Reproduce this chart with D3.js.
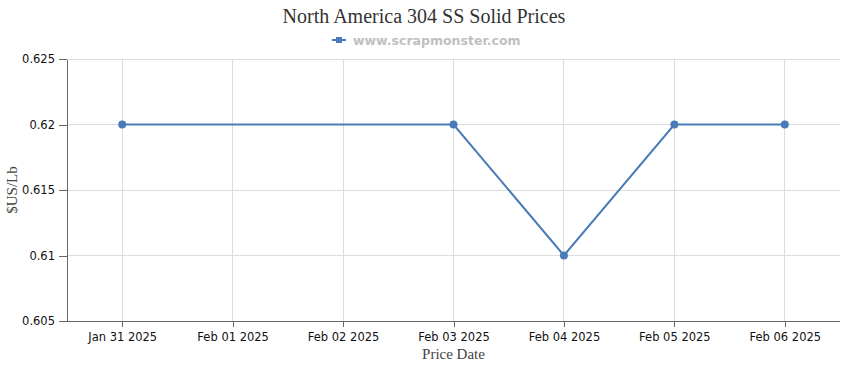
<!DOCTYPE html>
<html><head><meta charset="utf-8">
<script src="https://cdn.jsdelivr.net/npm/d3@7"></script>
<style>body{margin:0;background:#fff}</style>
</head><body>
<svg id="c" width="850" height="370"></svg>
<script>
const categories = ["Jan 31 2025","Feb 01 2025","Feb 02 2025","Feb 03 2025","Feb 04 2025","Feb 05 2025","Feb 06 2025"];
const pointDates = ["Jan 31 2025","Feb 03 2025","Feb 04 2025","Feb 05 2025","Feb 06 2025"];
const pointValues = [0.62,0.62,0.61,0.62,0.62];
const yTicks = [0.605,0.61,0.615,0.62,0.625];
const yTickLabels = ["0.605","0.61","0.615","0.62","0.625"];
const title = "North America 304 SS Solid Prices";
const legendLabel = "www.scrapmonster.com";
const xTitle = "Price Date";
const yTitle = "$US/Lb";

const svg = d3.select("#c");
const L=67, R=840, T=59, B=321;
const color="#4a7ab8";
const x = d3.scalePoint().domain(categories).range([L,R]).padding(0.5);
const y = d3.scaleLinear().domain([0.605,0.625]).range([B,T]);

// grid
svg.append("g").selectAll("line").data(yTicks).join("line")
  .attr("x1",L).attr("x2",R).attr("y1",d=>y(d)).attr("y2",d=>y(d))
  .attr("stroke","#dcdcdc").attr("stroke-width",1).attr("shape-rendering","crispEdges");
svg.append("g").selectAll("line").data(categories).join("line")
  .attr("x1",d=>x(d)).attr("x2",d=>x(d)).attr("y1",T).attr("y2",B)
  .attr("stroke","#dcdcdc").attr("stroke-width",1).attr("shape-rendering","crispEdges");

// axes
const font = "'DejaVu Sans', sans-serif";
const yAxis = svg.append("g").attr("transform",`translate(${L},0)`)
  .call(d3.axisLeft(y).tickValues(yTicks).tickFormat((d,i)=>yTickLabels[i]).tickSize(8).tickPadding(4).tickSizeOuter(0));
const xAxis = svg.append("g").attr("transform",`translate(0,${B})`)
  .call(d3.axisBottom(x).tickSize(6).tickPadding(6).tickSizeOuter(0));
xAxis.select(".domain").attr("d",`M${L},0.5H${R}`);
[yAxis,xAxis].forEach(a=>{
  a.selectAll("path,line").attr("stroke","#666").attr("shape-rendering","crispEdges");
  a.selectAll("text").attr("fill","#111").style("font-family",font).style("font-size","11.5px");
});

// line
const pts = pointDates.map((d,i)=>({d, v:pointValues[i]}));
svg.append("path").datum(pts)
  .attr("d",d3.line().x(p=>x(p.d)).y(p=>y(p.v)))
  .attr("fill","none").attr("stroke",color).attr("stroke-width",2);
svg.append("g").selectAll("circle").data(pts).join("circle")
  .attr("cx",p=>x(p.d)).attr("cy",p=>y(p.v)).attr("r",4).attr("fill",color);

// title
svg.append("text").attr("x",424).attr("y",23).attr("text-anchor","middle")
  .style("font-family","'Liberation Serif', serif").style("font-size","20px").attr("fill","#333").text(title);
// legend
svg.append("line").attr("x1",332).attr("x2",346).attr("y1",40).attr("y2",40).attr("stroke",color).attr("stroke-width",2);
svg.append("rect").attr("x",336).attr("y",37).attr("width",6).attr("height",6).attr("fill",color);
svg.append("text").attr("x",353).attr("y",45).style("font-family",font).style("font-weight","bold")
  .style("font-size","12.5px").attr("fill","#c0c0c0").text(legendLabel);
// axis titles
svg.append("text").attr("x",(L+R)/2).attr("y",359).attr("text-anchor","middle")
  .style("font-family","'Liberation Serif', serif").style("font-size","15px").attr("fill","#444").text(xTitle);
svg.append("text").attr("transform",`translate(17,${(T+B)/2}) rotate(-90)`).attr("text-anchor","middle")
  .style("font-family","'Liberation Serif', serif").style("font-size","15px").attr("fill","#444").text(yTitle);
</script>
</body></html>
